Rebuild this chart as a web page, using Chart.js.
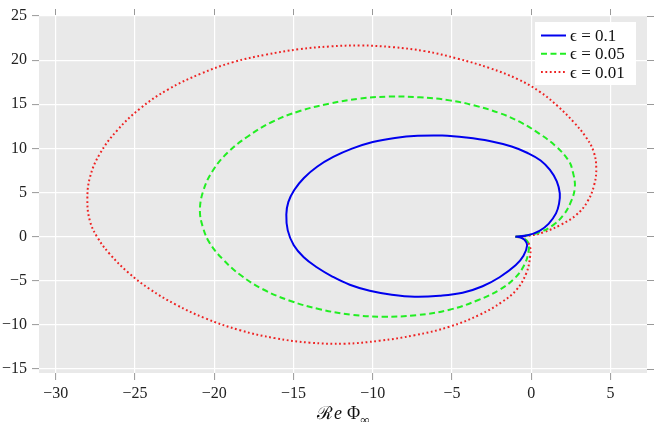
<!DOCTYPE html>
<html>
<head>
<meta charset="utf-8">
<script src="https://cdn.jsdelivr.net/npm/chart.js@4.4.1/dist/chart.umd.min.js"></script>
<style>
  html, body { margin: 0; padding: 0; background: #fff; }
</style>
</head>
<body>
<canvas id="phase" width="657" height="422"></canvas>
<script>
var seriesLabels = ['ϵ = 0.1', 'ϵ = 0.05', 'ϵ = 0.01'];

// eps = 0.1; starts and ends at the cusp near (-1, 0)
var eps1X = [-1.0, -0.23, 0.52, 1.09, 1.56, 1.75, 1.80, 1.61, 1.18, 0.59, -0.23, -1.24, -2.63, -4.11, -5.62, -7.16, -8.60, -10.00, -11.31, -12.49, -13.51, -14.34, -14.95, -15.32, -15.45, -15.36, -14.98, -14.35, -13.53, -12.52, -11.45, -10.19, -8.80, -7.35, -5.78, -4.33, -3.07, -2.00, -0.99, -0.49, -0.26, -0.42, -0.71, -1.0];
var eps1Y = [0, 0.15, 0.66, 1.45, 2.64, 3.71, 4.90, 6.26, 7.56, 8.63, 9.48, 10.21, 10.84, 11.23, 11.45, 11.42, 11.18, 10.72, 9.97, 9.03, 7.92, 6.65, 5.29, 3.94, 2.52, 0.71, -0.98, -2.34, -3.47, -4.55, -5.45, -6.13, -6.58, -6.81, -6.70, -6.36, -5.62, -4.60, -3.25, -2.17, -0.98, -0.36, -0.08, 0];

// eps = 0.05
var eps2X = [-1.0, -0.23, 0.52, 1.36, 2.04, 2.51, 2.75, 2.63, 2.35, 1.53, 0.52, -0.74, -2.00, -3.57, -5.15, -7.04, -8.93, -10.82, -12.71, -14.60, -16.36, -17.88, -19.14, -20.08, -20.68, -20.90, -20.71, -20.27, -19.45, -18.32, -16.93, -15.23, -13.34, -11.32, -9.31, -7.23, -5.15, -3.38, -2.00, -1.05, -0.45, -0.17, -0.20, -0.55, -1.0];
var eps2Y = [0, 0.15, 0.49, 1.28, 2.47, 3.99, 5.61, 7.27, 8.63, 10.27, 11.65, 13.02, 14.00, 14.85, 15.44, 15.79, 15.87, 15.64, 15.08, 14.23, 12.99, 11.35, 9.54, 7.50, 5.24, 2.98, 1.05, -0.76, -2.57, -4.38, -5.96, -7.26, -8.22, -8.85, -9.07, -8.90, -8.28, -7.21, -6.02, -4.72, -3.25, -1.66, -0.64, -0.14, 0];

// eps = 0.01
var eps3X = [-1.0, -0.17, 0.84, 1.91, 2.85, 3.55, 3.96, 4.10, 3.93, 3.42, 2.67, 1.66, 0.52, -0.86, -2.63, -4.65, -6.72, -8.74, -10.76, -12.71, -14.66, -16.74, -18.80, -20.84, -22.92, -24.68, -26.13, -27.20, -27.83, -28.00, -27.83, -27.33, -26.57, -25.44, -24.05, -22.41, -20.58, -18.38, -16.17, -13.97, -11.76, -9.56, -7.35, -5.15, -3.26, -1.87, -0.93, -0.33, -0.08, -0.11, -0.49, -1.0];
var eps3Y = [0, 0.09, 0.54, 1.39, 2.47, 3.99, 5.80, 7.73, 9.65, 11.35, 12.99, 14.80, 16.44, 17.85, 19.10, 20.17, 21.02, 21.47, 21.66, 21.55, 21.23, 20.62, 19.77, 18.47, 16.67, 14.51, 12.02, 9.42, 6.76, 4.11, 1.73, -0.19, -2.00, -4.04, -5.96, -7.71, -9.24, -10.60, -11.50, -12.01, -12.13, -11.79, -11.17, -10.20, -8.85, -7.43, -6.02, -4.21, -2.34, -0.98, -0.25, 0];

var xTicks = [-30, -25, -20, -15, -10, -5, 0, 5];
var yTicks = [-15, -10, -5, 0, 5, 10, 15, 20, 25];

function pairs(xs, ys) {
    return xs.map(function(x, i) { return {x: x, y: ys[i]}; });
}

function minusSign(v) {
    return v < 0 ? '\u2212' + Math.abs(v) : String(v);
}

function fixTicks(values) {
    return function(scale) {
        scale.ticks = values.map(function(v) { return {value: v}; });
    };
}

var serif = '"Liberation Serif", "DejaVu Serif", serif';
var tickGrey = '#999999';

// grey panel behind the plot
var panelBg = {
    id: 'panelBg',
    beforeDraw: function(chart) {
        var a = chart.chartArea, c = chart.ctx;
        c.save();
        c.fillStyle = '#e9e9e9';
        c.fillRect(a.left, a.top, a.right - a.left, a.bottom - a.top);
        c.restore();
    }
};

// legend box top right, and x label with subscript
var extras = {
    id: 'extras',
    afterDraw: function(chart) {
        var c = chart.ctx;
        c.save();
        c.fillStyle = '#ffffff';
        c.fillRect(535, 22, 101, 63);
        chart.data.datasets.forEach(function(ds, i) {
            var y = 35.5 + i * 18.3;
            c.strokeStyle = ds.borderColor;
            c.lineWidth = ds.borderWidth;
            c.setLineDash(ds.borderDash || []);
            c.beginPath();
            c.moveTo(541, y);
            c.lineTo(566, y);
            c.stroke();
            c.setLineDash([]);
            c.fillStyle = '#111';
            c.font = '17px ' + serif;
            c.textBaseline = 'middle';
            c.textAlign = 'left';
            c.fillText(ds.label, 570, y + 1);
        });

        // x axis title: Re Phi_inf, subscript cut by the bottom edge
        var x = 317, base = 419;
        c.fillStyle = '#111';
        c.textBaseline = 'alphabetic';
        c.font = '18px ' + serif;
        c.fillText('ℛ', x, base);
        x += c.measureText('ℛ').width + 1;
        c.font = 'italic 18px ' + serif;
        c.fillText('e', x, base);
        x += c.measureText('e').width + 5;
        c.font = '18px ' + serif;
        c.fillText('Φ', x, base);
        x += c.measureText('Φ').width;
        c.font = '13px ' + serif;
        c.fillText('∞', x, base + 5);
        c.restore();
    }
};

var ctx = document.getElementById('phase');
var myChart = new Chart(ctx.getContext('2d'), {
    type: 'line',
    data: {
        datasets: [{
            label: seriesLabels[0],
            data: pairs(eps1X, eps1Y),
            borderColor: '#0000ee',
            borderWidth: 2,
            pointRadius: 0,
            fill: false,
            tension: 0.4
        }, {
            label: seriesLabels[1],
            data: pairs(eps2X, eps2Y),
            borderColor: '#22ee22',
            borderWidth: 2,
            borderDash: [6, 3.5],
            pointRadius: 0,
            fill: false,
            tension: 0.4
        }, {
            label: seriesLabels[2],
            data: pairs(eps3X, eps3Y),
            borderColor: '#ee2222',
            borderWidth: 2,
            borderDash: [1.8, 2.6],
            pointRadius: 0,
            fill: false,
            tension: 0.4
        }]
    },
    options: {
        responsive: false,
        animation: false,
        devicePixelRatio: 1,
        layout: { padding: 0 },
        plugins: {
            legend: { display: false },
            tooltip: { enabled: false }
        },
        scales: {
            x: {
                type: 'linear',
                position: 'bottom',
                min: -31.05,
                max: 7.3,
                afterBuildTicks: fixTicks(xTicks),
                afterFit: function(s) { s.height = 49; },
                border: { display: false },
                grid: { color: '#ffffff', lineWidth: 1.2, tickColor: tickGrey, tickLength: 7, tickWidth: 1 },
                ticks: { color: '#222', padding: 4, maxRotation: 0, font: { family: serif, size: 16 }, callback: minusSign }
            },
            x2: {
                type: 'linear',
                position: 'top',
                min: -31.05,
                max: 7.3,
                afterBuildTicks: fixTicks(xTicks),
                afterFit: function(s) { s.height = 16; },
                border: { display: false },
                grid: { drawOnChartArea: false, tickColor: tickGrey, tickLength: 7, tickWidth: 1 },
                ticks: { display: false }
            },
            y: {
                type: 'linear',
                position: 'left',
                min: -15.45,
                max: 25,
                afterBuildTicks: fixTicks(yTicks),
                afterFit: function(s) { s.width = 39; },
                border: { display: false },
                grid: { color: '#ffffff', lineWidth: 1.2, tickColor: tickGrey, tickLength: 7, tickWidth: 1 },
                ticks: { color: '#222', padding: 5, font: { family: serif, size: 16 }, callback: minusSign }
            },
            y2: {
                type: 'linear',
                position: 'right',
                min: -15.45,
                max: 25,
                afterBuildTicks: fixTicks(yTicks),
                afterFit: function(s) { s.width = 10; },
                border: { display: false },
                grid: { drawOnChartArea: false, tickColor: tickGrey, tickLength: 7, tickWidth: 1 },
                ticks: { display: false }
            }
        }
    },
    plugins: [panelBg, extras]
});
</script>
</body>
</html>
